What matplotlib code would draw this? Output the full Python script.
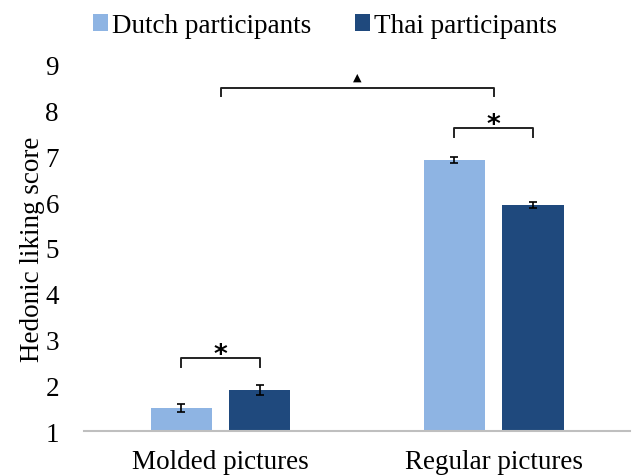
import matplotlib.pyplot as plt
import numpy as np

plt.rcParams["font.family"] = ["Liberation Serif", "DejaVu Serif"]

categories = ["Molded pictures", "Regular pictures"]
groups = ["Dutch participants", "Thai participants"]
dutch = [1.50, 6.92]
thai = [1.90, 5.94]
dutch_err = [0.09, 0.07]
thai_err = [0.10, 0.07]
colors = ["#8EB4E3", "#1F497D"]

fig = plt.figure(figsize=(6.36, 4.77), dpi=100)
ax = fig.add_axes([0.132, 0.094, 0.859, 0.768])

x = np.arange(len(categories))
width = 0.224
offset = 0.144

ax.bar(x - offset, dutch, width, bottom=0, color=colors[0], label=groups[0], zorder=2)
ax.bar(x + offset, thai, width, bottom=0, color=colors[1], label=groups[1], zorder=2)
ax.errorbar(x - offset, dutch, yerr=dutch_err, fmt="none", ecolor="black",
            elinewidth=1.2, capsize=3, capthick=1.2, zorder=3)
ax.errorbar(x + offset, thai, yerr=thai_err, fmt="none", ecolor="black",
            elinewidth=1.2, capsize=3, capthick=1.2, zorder=3)


def bracket(x0, x1, y, drop, label, size=19, lift=-0.22):
    ax.plot([x0, x0, x1, x1], [y - drop, y, y, y - drop], color="#222222",
            lw=1.4, clip_on=False, zorder=4)
    ax.text((x0 + x1) / 2, y + lift, label, ha="center", va="bottom",
            fontsize=size, fontfamily="DejaVu Sans", fontweight="bold")


# within-category comparisons and the between-category comparison
bracket(x[0] - offset, x[0] + offset, 2.60, 0.20, "*")
bracket(x[1] - offset, x[1] + offset, 7.62, 0.20, "*")
bracket(x[0], x[1], 8.50, 0.18, "\u25B2", size=8, lift=0.14)

ax.set_xlim(-0.5, 1.5)
ax.set_ylim(1, 9)
ax.set_yticks(range(1, 10))
ax.set_xticks(x)
ax.set_xticklabels(categories)
ax.tick_params(axis="both", length=0, labelsize=19.5)
ax.tick_params(axis="x", pad=12.5)
ax.tick_params(axis="y", pad=18)
ax.set_ylabel("Hedonic liking score", fontsize=19.5, labelpad=0)

for side in ["top", "right", "left"]:
    ax.spines[side].set_visible(False)
ax.spines["bottom"].set_color("#BFBFBF")
ax.spines["bottom"].set_linewidth(1.5)

fig.legend(loc="center", bbox_to_anchor=(0.511, 0.944), ncol=2, frameon=False,
           fontsize=19.5, handlelength=0.55, handleheight=0.55, handletextpad=0.15,
           columnspacing=1.6, borderpad=0, borderaxespad=0)

plt.savefig("out.png")
